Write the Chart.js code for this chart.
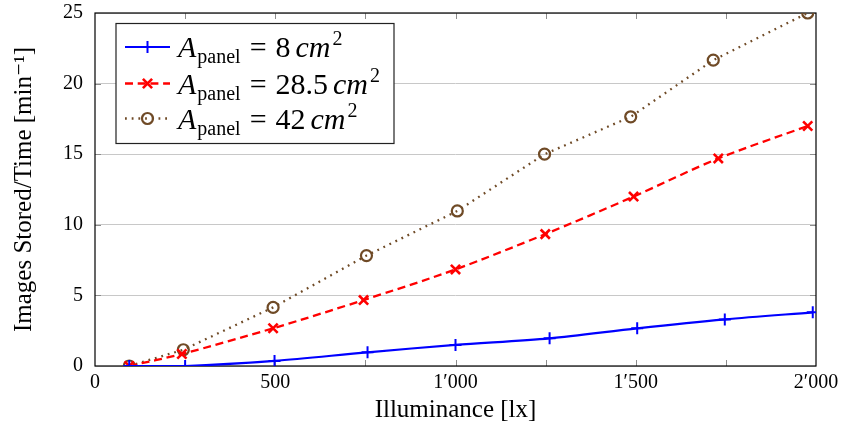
<!DOCTYPE html>
<html>
<head>
<meta charset="utf-8">
<script src="https://cdn.jsdelivr.net/npm/chart.js@4.4.1/dist/chart.umd.min.js"></script>
<style>
  body { margin: 0; background: #fff; }
  #chart { display: block; }
</style>
</head>
<body>
<canvas id="chart" width="847" height="435"></canvas>
<script>
// values
const lux8 = [95, 250, 498, 756, 1000, 1261, 1504, 1747, 1991];
const img8 = [0, 0, 0.36, 0.97, 1.49, 1.96, 2.67, 3.3, 3.8];
const lux285 = [95, 241, 494, 745, 1000, 1249, 1494, 1729, 1977];
const img285 = [0, 0.85, 2.67, 4.67, 6.84, 9.34, 12.0, 14.7, 17.0];
const lux42 = [95, 245, 494, 753, 1005, 1247, 1486, 1715, 1977];
const img42 = [0, 1.15, 4.15, 7.82, 10.98, 15.0, 17.65, 21.66, 25.0];

const panelAreas = ['8', '28.5', '42'];
const xTickLabels = ['0', '500', '1\u2032000', '1\u2032500', '2\u2032000'];
const yTickLabels = ['0', '5', '10', '15', '20', '25'];

const serif = '"Liberation Serif", "DejaVu Serif", serif';

function pts(xs, ys) {
  return xs.map((x, i) => ({ x: x, y: ys[i] }));
}

// inside ticks + black frame, pgfplots style
const framePlugin = {
  id: 'frame',
  beforeDatasetsDraw(chart) {
    const { ctx, chartArea } = chart;
    const { left, right, top, bottom } = chartArea;
    const xs = chart.scales.x, ys = chart.scales.y;
    ctx.save();
    ctx.strokeStyle = '#8c8c8c';
    ctx.lineWidth = 1;
    ctx.beginPath();
    for (let v = 250; v < 2000; v += 250) {
      const px = Math.round(xs.getPixelForValue(v)) + 0.5;
      ctx.moveTo(px, bottom); ctx.lineTo(px, bottom - 6);
      ctx.moveTo(px, top); ctx.lineTo(px, top + 6);
    }
    for (let v = 5; v < 25; v += 5) {
      const py = Math.round(ys.getPixelForValue(v)) + 0.5;
      ctx.moveTo(left, py); ctx.lineTo(left + 6, py);
      ctx.moveTo(right, py); ctx.lineTo(right - 6, py);
    }
    ctx.stroke();
    ctx.strokeStyle = '#000';
    ctx.lineWidth = 1.2;
    ctx.strokeRect(left, top, right - left, bottom - top);
    ctx.restore();
  }
};

// legend with A_panel = .. cm^2
const legendPlugin = {
  id: 'mathLegend',
  afterDraw(chart) {
    const { ctx, chartArea } = chart;
    const bx = chartArea.left + 21, by = chartArea.top + 10.5;
    const bw = 278, bh = 120;
    ctx.save();
    ctx.fillStyle = '#fff';
    ctx.fillRect(bx, by, bw, bh);
    ctx.strokeStyle = '#222';
    ctx.lineWidth = 1.2;
    ctx.strokeRect(bx, by, bw, bh);

    const rows = [23.5, 60, 95];
    chart.data.datasets.forEach((ds, i) => {
      const cy = by + rows[i];
      const x0 = bx + 9, x1 = bx + 54, xm = (x0 + x1) / 2;
      ctx.save();
      ctx.strokeStyle = ds.borderColor;
      ctx.lineWidth = ds.borderWidth;
      ctx.setLineDash(ds.borderDash || []);
      ctx.beginPath();
      ctx.moveTo(x0, cy); ctx.lineTo(x1, cy);
      ctx.stroke();
      ctx.setLineDash([]);
      ctx.fillStyle = ds.pointBackgroundColor || ds.borderColor;
      ctx.strokeStyle = ds.pointBorderColor;
      ctx.lineWidth = ds.pointBorderWidth;
      Chart.helpers.drawPoint(ctx, {
        pointStyle: ds.pointStyle, radius: ds.pointRadius,
        borderWidth: ds.pointBorderWidth, rotation: 0
      }, xm, cy);
      ctx.restore();

      // text
      let tx = bx + 62;
      const base = cy + 10;
      ctx.fillStyle = '#000';
      ctx.textBaseline = 'alphabetic';
      ctx.textAlign = 'left';
      const put = (s, font, dy) => {
        ctx.font = font;
        ctx.fillText(s, tx, base + dy);
        tx += ctx.measureText(s).width;
      };
      put('A', 'italic 30px ' + serif, 0);
      tx += 1;
      put('panel', '20px ' + serif, 6);
      tx += 9;
      put('=', '30px ' + serif, 0);
      tx += 9;
      put(panelAreas[i], '30px ' + serif, 0);
      tx += 5;
      put('cm', 'italic 30px ' + serif, 0);
      tx += 2;
      put('2', '20px ' + serif, -12);
    });
    ctx.restore();
  }
};

const ctx = document.getElementById('chart').getContext('2d');
const myChart = new Chart(ctx, {
  type: 'line',
  data: {
    datasets: [{
      label: 'A_panel = 8 cm^2',
      data: pts(lux8, img8),
      borderColor: '#0000ff',
      backgroundColor: '#0000ff',
      borderWidth: 2.2,
      tension: 0.3,
      pointStyle: 'cross',
      pointRadius: 6,
      pointBorderWidth: 2,
      pointBorderColor: '#0000ff'
    }, {
      label: 'A_panel = 28.5 cm^2',
      data: pts(lux285, img285),
      borderColor: '#ff0000',
      backgroundColor: '#ff0000',
      borderWidth: 2.3,
      borderDash: [8, 4.7],
      tension: 0.3,
      pointStyle: 'crossRot',
      pointRadius: 6.5,
      pointBorderWidth: 2.6,
      pointBorderColor: '#ff0000'
    }, {
      label: 'A_panel = 42 cm^2',
      data: pts(lux42, img42),
      borderColor: '#6f4a26',
      backgroundColor: 'rgba(0,0,0,0)',
      borderWidth: 2.3,
      borderDash: [1.8, 4.9],
      tension: 0,
      pointStyle: 'circle',
      pointRadius: 5.5,
      pointBorderWidth: 2.2,
      pointBorderColor: '#6f4a26',
      pointBackgroundColor: 'rgba(0,0,0,0)'
    }]
  },
  options: {
    responsive: false,
    animation: false,
    devicePixelRatio: 1,
    layout: { padding: { left: 0, right: 31, top: 13, bottom: 0 } },
    plugins: {
      legend: { display: false },
      tooltip: { enabled: false }
    },
    scales: {
      x: {
        type: 'linear',
        min: 0,
        max: 2000,
        afterFit(s) { s.height = 69; },
        grid: { display: false, drawTicks: false },
        border: { display: false },
        ticks: {
          stepSize: 500,
          maxRotation: 0,
          padding: 5,
          color: '#000',
          font: { family: serif, size: 20 },
          callback: (v, i) => xTickLabels[i]
        },
        title: {
          display: true,
          text: 'Illuminance [lx]',
          color: '#000',
          font: { family: serif, size: 25 },
          padding: { top: 0, bottom: 10 }
        }
      },
      y: {
        min: 0,
        max: 25,
        afterFit(s) { s.width = 95; s.paddingTop = 0; s.paddingBottom = 0; },
        grid: { color: '#c8c8c8', lineWidth: 1, drawTicks: false },
        border: { display: false },
        ticks: {
          stepSize: 5,
          padding: 12,
          color: '#000',
          font: { family: serif, size: 20 },
          callback: (v, i) => yTickLabels[i]
        },
        title: {
          display: true,
          text: 'Images Stored/Time [min\u207B\u00B9]',
          color: '#000',
          font: { family: serif, size: 25 },
          padding: { top: 9, bottom: 0 }
        }
      }
    }
  },
  plugins: [framePlugin, legendPlugin]
});
</script>
</body>
</html>
